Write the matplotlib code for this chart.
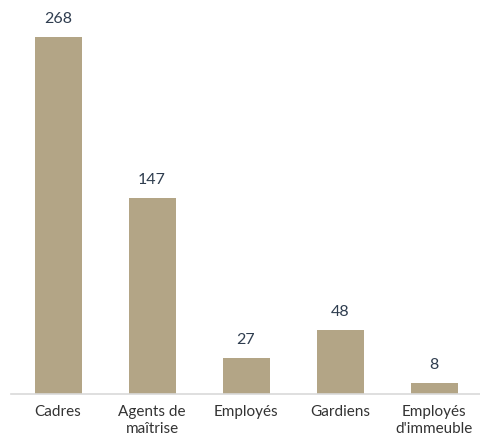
import matplotlib.pyplot as plt

categories = ['Cadres', 'Agents de\nmaîtrise', 'Employés', 'Gardiens', 'Employés\nd\'immeuble']
values = [268, 147, 27, 48, 8]

plt.rcParams['font.family'] = ['Lato', 'DejaVu Sans']

fig = plt.figure(figsize=(4.8, 4.37), dpi=100)
# axes: left 11px, baseline at 394px from top, top at 0
ax = fig.add_axes([11 / 480, 43 / 437, 470 / 480, 394 / 437])

x = range(len(values))
bars = ax.bar(x, values, width=0.5, color='#B3A586')
ymax = 268 * 394 / (394 - 37)
ax.set_ylim(0, ymax)
ax.set_xlim(-0.5, len(values) - 0.5)

for b, v in zip(bars, values):
    ax.annotate(str(v), (b.get_x() + b.get_width() / 2, v), xytext=(0, 8),
                textcoords='offset points', ha='center', va='bottom',
                fontsize=11.5, color='#2F3D4F')

ax.set_xticks(list(x))
ax.set_xticklabels(categories, fontsize=11, color='#333333', linespacing=1.25)
ax.tick_params(axis='x', length=0, pad=8)
ax.set_yticks([])
for s in ['top', 'right', 'left']:
    ax.spines[s].set_visible(False)
ax.spines['bottom'].set_color('#D9D9D9')
ax.spines['bottom'].set_linewidth(1.2)

fig.savefig('out.png', dpi=100)
